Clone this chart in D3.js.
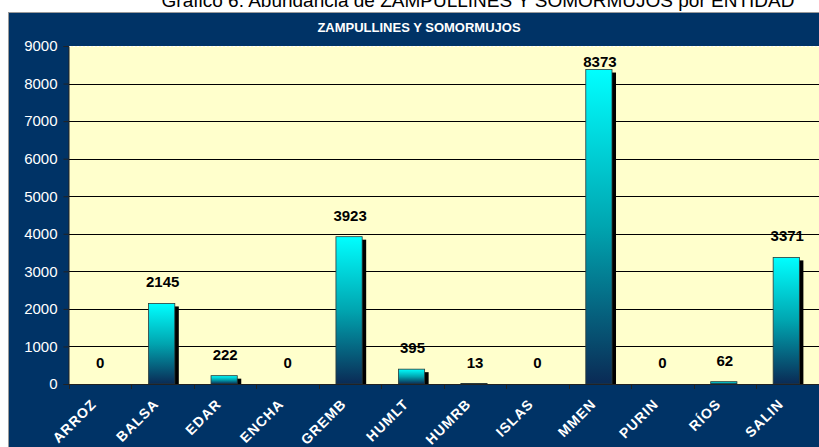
<!DOCTYPE html>
<html>
<head>
<meta charset="utf-8">
<script src="https://cdn.jsdelivr.net/npm/d3@7"></script>
<style>
  body { margin:0; background:#fff; overflow:hidden; }
  svg { display:block; font-family: Arial, "Liberation Sans", sans-serif; }
</style>
</head>
<body>
<div id="plot"></div>
<script>
// data
var categories = ['ARROZ','BALSA','EDAR','ENCHA','GREMB','HUMLT','HUMRB','ISLAS','MMEN','PURIN','RÍOS','SALIN'];
var values = [0, 2145, 222, 0, 3923, 395, 13, 0, 8373, 0, 62, 3371];
var yTicks = [0,1000,2000,3000,4000,5000,6000,7000,8000,9000];

var W = 819, H = 447;
var navy = '#003366';

var svg = d3.select('#plot').append('svg')
  .attr('width', W).attr('height', H);

// gradient for the bars
var defs = svg.append('defs');
var grad = defs.append('linearGradient').attr('id','barGrad')
  .attr('x1',0).attr('y1',0).attr('x2',0).attr('y2',1);
grad.append('stop').attr('offset','0%').attr('stop-color','#00ffff');
grad.append('stop').attr('offset','50%').attr('stop-color','#00a5b0');
grad.append('stop').attr('offset','100%').attr('stop-color','#0a2a55');

// page title (cut off at top)
svg.append('text')
  .attr('x', 478).attr('y', 7)
  .attr('text-anchor','middle')
  .style('font-size','19px')
  .attr('fill','#000')
  .text('Gráfico 6. Abundancia de ZAMPULLINES Y SOMORMUJOS por ENTIDAD');

// chart frame
svg.append('rect')
  .attr('x', 8.5).attr('y', 12.5)
  .attr('width', W).attr('height', H)
  .attr('fill', navy)
  .attr('stroke', '#9a9a9a').attr('stroke-width', 1);

svg.append('text')
  .attr('x', 419).attr('y', 32)
  .attr('text-anchor','middle')
  .style('font-size','13px').style('font-weight','bold')
  .attr('fill','#fff')
  .text('ZAMPULLINES Y SOMORMUJOS');

var plotL = 69, plotR = 818.5, plotT = 46, plotB = 384;

var x = d3.scaleBand()
  .domain(categories)
  .range([plotL, plotR])
  .paddingInner(0.58)
  .paddingOuter(0.29);

var y = d3.scaleLinear()
  .domain([0, 9000])
  .range([plotB, plotT]);

// plot background
svg.append('rect')
  .attr('x', plotL).attr('y', plotT)
  .attr('width', W - plotL).attr('height', plotB - plotT)
  .attr('fill', '#ffffcc');

svg.append('line')
  .attr('x1', plotL).attr('x2', W).attr('y1', plotT + 0.5).attr('y2', plotT + 0.5)
  .attr('stroke', '#ffffff').attr('stroke-dasharray', '2,2');

// gridlines
svg.append('g').selectAll('line')
  .data(yTicks.filter(function(d){ return d > 0 && d < 9000; }))
  .enter().append('line')
  .attr('x1', plotL).attr('x2', W)
  .attr('y1', function(d){ return Math.round(y(d)) + 0.5; })
  .attr('y2', function(d){ return Math.round(y(d)) + 0.5; })
  .attr('stroke', '#000').attr('stroke-width', 1);

// y axis
var yAxis = svg.append('g')
  .attr('transform', 'translate(' + (plotL - 0.5) + ',0)')
  .call(d3.axisLeft(y).tickValues(yTicks).tickFormat(d3.format('d')).tickSize(5).tickPadding(6));
yAxis.select('.domain').attr('stroke', '#222');
yAxis.selectAll('.tick line').attr('stroke', '#222');
yAxis.selectAll('.tick text')
  .attr('fill', '#fff')
  .style('font-size', '15px')
  .style('font-family', 'Arial, "Liberation Sans", sans-serif');

// bars: shadow then bar
var step = x.step();
var bars = svg.append('g');
bars.selectAll('rect.shadow')
  .data(values)
  .enter().append('rect')
  .attr('class','shadow')
  .attr('x', function(d,i){ return x(categories[i]) - 1 + 4; })
  .attr('y', function(d){ return y(d) + 3; })
  .attr('width', x.bandwidth())
  .attr('height', function(d){ return Math.max(0, plotB - y(d) - 3); })
  .attr('fill', '#000');

bars.selectAll('rect.bar')
  .data(values)
  .enter().append('rect')
  .attr('class','bar')
  .attr('x', function(d,i){ return x(categories[i]) - 1; })
  .attr('y', function(d){ return y(d); })
  .attr('width', x.bandwidth())
  .attr('height', function(d){ return plotB - y(d); })
  .attr('fill', 'url(#barGrad)')
  .attr('stroke', '#2a3a3a').attr('stroke-width', 0.8);

// x axis line and boundary ticks
svg.append('line')
  .attr('x1', plotL).attr('x2', W).attr('y1', plotB + 0.5).attr('y2', plotB + 0.5)
  .attr('stroke', '#222');
svg.append('g').selectAll('line')
  .data(d3.range(categories.length + 1))
  .enter().append('line')
  .attr('x1', function(i){ return Math.round(plotL + i * step) + 0.5; })
  .attr('x2', function(i){ return Math.round(plotL + i * step) + 0.5; })
  .attr('y1', plotB).attr('y2', plotB + 5)
  .attr('stroke', '#222');

// category labels
svg.append('g').selectAll('text')
  .data(categories)
  .enter().append('text')
  .attr('transform', function(d){
    return 'translate(' + (x(d) + x.bandwidth()/2 - 3) + ',' + 405 + ') rotate(-45)';
  })
  .attr('text-anchor','end')
  .style('font-size','14px').style('font-weight','bold')
  .style('letter-spacing','1px')
  .attr('fill','#fff')
  .text(function(d){ return d; });

// value labels
svg.append('g').selectAll('text')
  .data(values)
  .enter().append('text')
  .attr('x', function(d,i){ return x(categories[i]) + x.bandwidth()/2; })
  .attr('y', function(d){ return Math.max(y(d) - 16, 67); })
  .attr('text-anchor','middle')
  .style('font-size','15px').style('font-weight','bold')
  .attr('fill','#000')
  .text(function(d){ return d; });
</script>
</body>
</html>
